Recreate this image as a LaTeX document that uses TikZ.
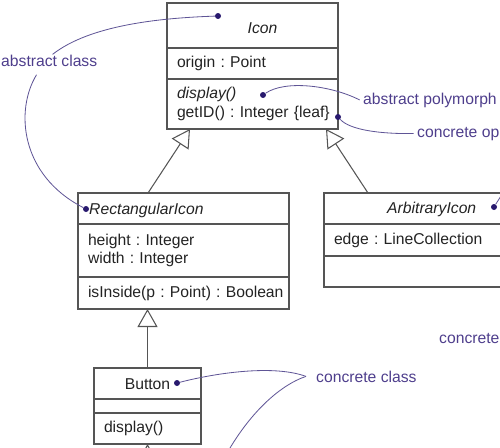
\documentclass[tikz,border=0pt]{standalone}
\usepackage{fontspec}
\setmainfont{Liberation Sans}
\frenchspacing
\usepackage{tikz}
\usetikzlibrary{arrows.meta, positioning}
\definecolor{uLineGray}{RGB}{85,85,85}
\definecolor{uTextGray}{RGB}{35,35,35}
\definecolor{uNoteText}{RGB}{78,62,140}
\definecolor{uNoteLine}{RGB}{95,85,150}
\definecolor{uNoteDot}{RGB}{40,25,110}
\newcommand{\uSize}{\fontsize{13.4pt}{16pt}\selectfont}
\tikzstyle{uBox} = [rectangle, draw=uLineGray, line width=1.1pt, outer sep=0pt, inner xsep=0.3cm, inner ysep=0pt, text=uTextGray, font=\uSize, align=left]
\tikzstyle{uName} = [inner sep=0pt, text=uTextGray, font=\uSize\itshape]
\tikzstyle{uNote} = [inner sep=0pt, text=uNoteText, font=\uSize]
\tikzstyle{uDot} = [circle, fill=uNoteDot, inner sep=0pt, minimum size=0.18cm]
\tikzstyle{uLeader} = [draw=uNoteLine, line width=0.7pt]
\tikzstyle{uArrow} = [draw=uLineGray, line width=0.9pt, -{Triangle[open, length=0.54cm, width=0.6cm]}]

\begin{document}
\begin{tikzpicture}[x=0.03cm, y=-0.03cm]
    \useasboundingbox (0,0) rectangle (500,448);
    \clip (0,0) rectangle (500,448);

    % class boxes
    \node (iconName) [uBox, anchor=north west, text width=4.53cm, minimum height=1.35cm] at (167,3) {};
    \node (iconAttr) [uBox, below=0pt of iconName, text width=4.53cm, minimum height=0.93cm] {origin : Point};
    \node (iconOps) [uBox, below=0pt of iconAttr, text width=4.53cm, minimum height=1.5cm] {\mbox{\itshape display()}\\\mbox{getID() : Integer \{leaf\}}};

    \node (recName) [uBox, anchor=north west, text width=5.73cm, minimum height=0.93cm] at (78,193) {};
    \node (recAttr) [uBox, below=0pt of recName, text width=5.73cm, minimum height=1.59cm] {height : Integer\\width : Integer};
    \node (recOps) [uBox, below=0pt of recAttr, text width=5.73cm, minimum height=0.96cm] {\mbox{isInside(p : Point) : Boolean}};

    \node (arbName) [uBox, anchor=north west, text width=5.73cm, minimum height=0.93cm] at (324,193) {};
    \node (arbAttr) [uBox, below=0pt of arbName, text width=5.73cm, minimum height=0.96cm] {edge : LineCollection};
    \node (arbOps) [uBox, below=0pt of arbAttr, text width=5.73cm, minimum height=0.93cm] {};

    \node (btnName) [uBox, anchor=north west, text width=2.61cm, minimum height=0.93cm] at (94,368) {};
    \node (btnAttr) [uBox, below=0pt of btnName, text width=2.61cm, minimum height=0.42cm] {};
    \node (btnOps) [uBox, below=0pt of btnAttr, text width=2.61cm, minimum height=0.93cm] {display()};

    \node (iconTitle) [uName, anchor=base] at (262.5,33) {Icon};
    \node (recTitle) [uName, anchor=base west] at (89,214) {RectangularIcon};
    \node (arbTitle) [uName, anchor=base west] at (387,213) {ArbitraryIcon};
    \node (btnTitle) [uName, font=\uSize, anchor=base] at (147.5,389) {Button};

    % generalizations
    \coordinate (btnBelow) at (147.5,480);
    \draw [uArrow] ([xshift=-1.065cm]recName.north) -- ([xshift=-1.875cm]iconOps.south);
    \draw [uArrow] ([xshift=1.32cm]arbName.north west) -- ([xshift=-0.36cm]iconOps.south east);
    \draw [uArrow] (btnName.north) -- (btnName.north |- recOps.south);
    \draw [uArrow] (btnBelow) -- (btnOps.south);

    % notes
    \node (noteAbstract) [uNote, anchor=base west] at (1,66) {abstract class};
    \node (notePoly) [uNote, anchor=base west] at (363,104) {abstract polymorph};
    \node (noteLeaf) [uNote, anchor=base west] at (417,137) {concrete op};
    \node (noteConcrete) [uNote, anchor=base west] at (439,343) {concrete};
    \node (noteClass) [uNote, anchor=base west] at (316,382) {concrete class};

    \node (dotIcon) [uDot] at (218,16) {};
    \node (dotDisplay) [uDot] at (263,95) {};
    \node (dotGetID) [uDot] at (338,117) {};
    \node (dotRec) [uDot] at (86,209) {};
    \node (dotArb) [uDot] at (494,207) {};
    \node (dotBtn) [uDot] at (177,383) {};
    \coordinate (arbOff) at (506,188);
    \coordinate (belowOff) at (218,470);

    \draw [uLeader] (dotIcon) .. controls (160,18) and (90,25) .. ([xshift=0.1cm]noteAbstract.north);
    \draw [uLeader] ([xshift=-0.38cm, yshift=-0.25cm]noteAbstract.south) .. controls (15,110) and (20,175) .. (dotRec);
    \draw [uLeader] (dotDisplay) .. controls (285,80) and (330,85) .. ([xshift=-0.1cm]notePoly.west);
    \draw [uLeader] (dotGetID) .. controls (350,130) and (380,134) .. ([xshift=-0.1cm]noteLeaf.west);
    \draw [uLeader] (dotArb) -- (arbOff);
    \draw [uLeader] (dotBtn) .. controls (220,372) and (275,365) .. ([xshift=-0.3cm]noteClass.west);
    \draw [uLeader] ([xshift=-0.3cm]noteClass.west) .. controls (280,385) and (245,415) .. (belowOff);
\end{tikzpicture}
\end{document}
